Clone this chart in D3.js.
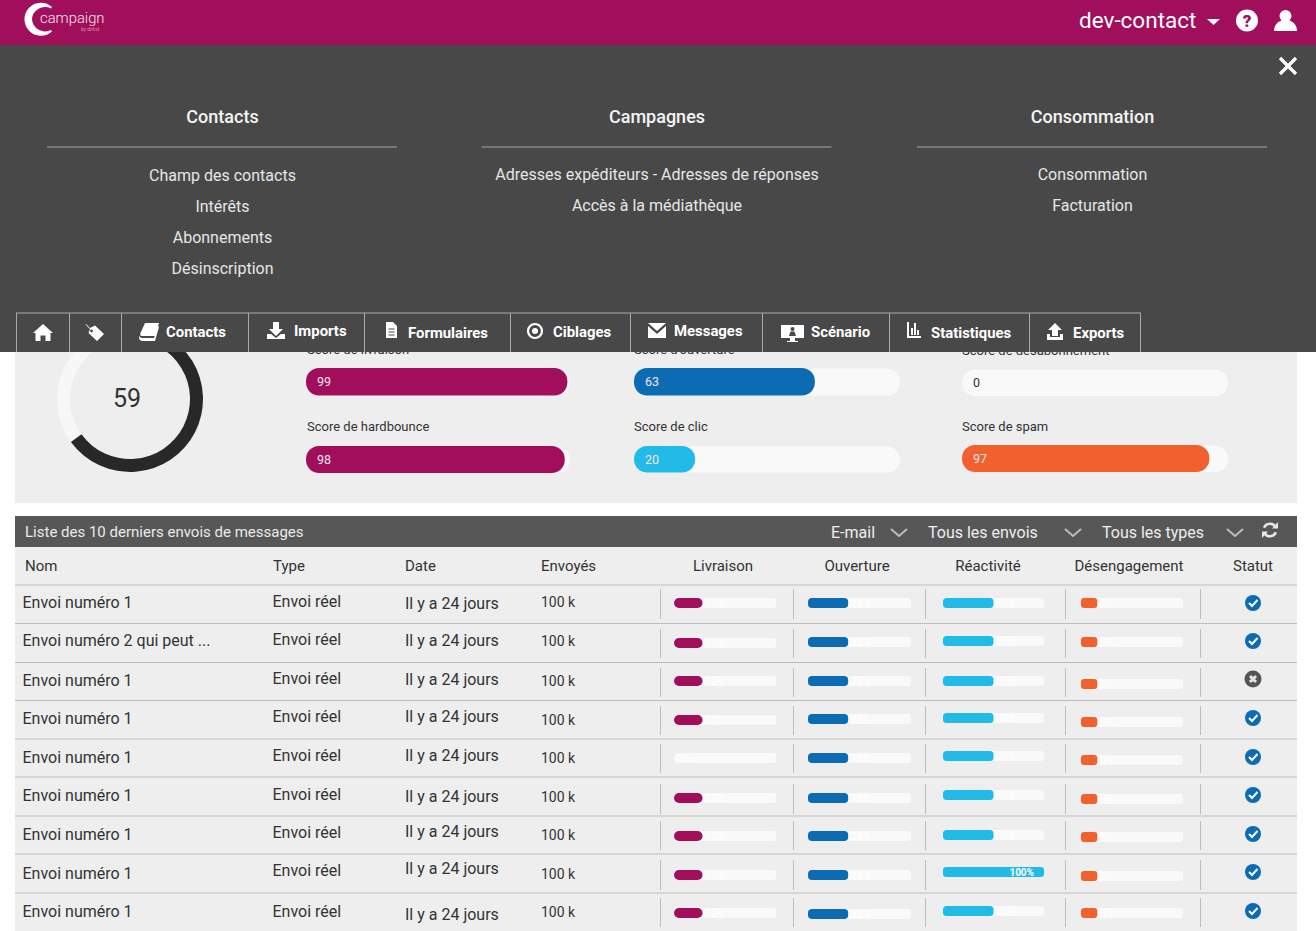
<!DOCTYPE html>
<html>
<head>
<meta charset="utf-8">
<script src="https://cdn.jsdelivr.net/npm/d3@7"></script>
<style>
    html, body { margin: 0; padding: 0; background: #fff; overflow: hidden; }
    svg { display: block; }
    text { font-family: Roboto, sans-serif; }
</style>
</head>
<body>
<svg id="page" width="1316" height="931"></svg>
<script>
// data
const menuTitles = ['Contacts', 'Campagnes', 'Consommation']
const menuItems = [
    ['Champ des contacts', 'Intérêts', 'Abonnements', 'Désinscription'],
    ['Adresses expéditeurs - Adresses de réponses', 'Accès à la médiathèque'],
    ['Consommation', 'Facturation']
]
const navLabels = ['', '', 'Contacts', 'Imports', 'Formulaires', 'Ciblages', 'Messages', 'Scénario', 'Statistiques', 'Exports']

const donutLabel = '59'
const donutFill = 65

const scoreNames = ['Score de livraison', 'Score de hardbounce', "Score d'ouverture", 'Score de clic', 'Score de désabonnement', 'Score de spam']
const scoreLabels = ['99', '98', '63', '20', '0', '97']
const scoreFill = [99, 98, 68, 23, 0, 93]

const tableTitle = 'Liste des 10 derniers envois de messages'
const filters = ['E-mail', 'Tous les envois', 'Tous les types']
const columns = ['Nom', 'Type', 'Date', 'Envoyés', 'Livraison', 'Ouverture', 'Réactivité', 'Désengagement', 'Statut']

const names = ['Envoi numéro 1', 'Envoi numéro 2 qui peut ...', 'Envoi numéro 1', 'Envoi numéro 1', 'Envoi numéro 1', 'Envoi numéro 1', 'Envoi numéro 1', 'Envoi numéro 1', 'Envoi numéro 1']
const types = ['Envoi réel', 'Envoi réel', 'Envoi réel', 'Envoi réel', 'Envoi réel', 'Envoi réel', 'Envoi réel', 'Envoi réel', 'Envoi réel']
const dates = ['Il y a 24 jours', 'Il y a 24 jours', 'Il y a 24 jours', 'Il y a 24 jours', 'Il y a 24 jours', 'Il y a 24 jours', 'Il y a 24 jours', 'Il y a 24 jours', 'Il y a 24 jours']
const sent = ['100 k', '100 k', '100 k', '100 k', '100 k', '100 k', '100 k', '100 k', '100 k']
const statuses = ['ok', 'ok', 'ko', 'ok', 'ok', 'ok', 'ok', 'ok', 'ok']

// shown percentage / drawn length of each small bar
const livraisonText = ['12%', '12%', '12%', '12%', '0%', '12%', '12%', '12%', '12%']
const livraisonFill = [28, 28, 28, 28, 0, 28, 28, 28, 28]
const ouvertureText = ['25%', '25%', '25%', '25%', '25%', '25%', '25%', '25%', '25%']
const ouvertureFill = [39, 39, 39, 39, 39, 39, 39, 39, 39]
const reactiviteText = ['50%', '50%', '50%', '50%', '50%', '50%', '50%', '100%', '50%']
const reactiviteFill = [50, 50, 50, 50, 50, 50, 50, 100, 50]
const desengagementText = ['5%', '5%', '5%', '5%', '5%', '5%', '5%', '5%', '5%']
const desengagementFill = [16, 16, 16, 16, 16, 16, 16, 16, 16]

/**
 * @Layout
 */
const COLORS = {
    brand: '#A10E5B', panel: '#484848', band: '#575757', bg: '#EEEEEE', track: '#F9F9F9',
    blue: '#0C6CB3', cyan: '#22BBE8', orange: '#F2602E', dark: '#282828', text: '#333333', line: '#BDBDBD'
}
const menuCenters = [222.5, 657, 1092.5]
const menuItemY = [[175, 206, 237, 268], [174, 205], [174, 205]]
const navEdges = [16, 69, 121, 248, 364, 510, 630, 762, 889, 1029, 1140]
const navTextX = [0, 0, 166, 294, 408, 553, 674, 811, 931, 1073]
const navTextY = [0, 0, 332, 331, 333, 332, 331, 332, 333, 333]
const rowLines = [585, 623.5, 662.5, 700.5, 739, 777, 816, 854, 893]
const sepTop = [589, 629, 668, 706, 744, 784, 821, 860, 898]
const sepBottom = [619, 658, 697, 735, 773, 814, 850, 890, 927]
const columnX = [25, 273, 405, 541]
const columnCenters = [723, 857, 988, 1129, 1253]
const separators = [660.5, 793.5, 925.5, 1065.5, 1200.5]
const nameY = [602, 640, 680, 718, 757, 795, 834, 873, 911]
const typeY = [601, 639, 678, 716, 755, 794, 832, 870, 911]
const dateY = [603, 640, 679, 716, 755, 796, 831, 868, 914]
const sentY = [602, 641, 681, 720, 758, 797, 835, 874, 912]
const statusY = [603, 641, 679, 718, 757, 795, 834, 872, 911]

const Page = d3.select('#page')

// small helper for text, the page has a lot of it
function label(parent, x, y, str, size, color, anchor, weight) {
    return parent.append('text')
        .attr('x', x).attr('y', y).attr('dy', '.35em')
        .attr('font-size', size)
        .attr('fill', color)
        .attr('text-anchor', anchor || 'start')
        .attr('font-weight', weight || 400)
        .text(str)
}

/**
 * @Content
 */
Page.append('rect').attr('x', 15).attr('y', 340).attr('width', 1282).attr('height', 163).attr('fill', COLORS.bg)

// donut
const Donut = Page.append('g').attr('transform', 'translate(130,399)')
const donutAngle = d3.scaleLinear().domain([0, 100]).range([0, 2 * Math.PI])
const donutArc = d3.arc().innerRadius(60).outerRadius(73)
Donut.append('path').attr('d', donutArc({ startAngle: 0, endAngle: 2 * Math.PI })).attr('fill', '#F7F7F7')
Donut.append('path').attr('d', donutArc({ startAngle: 0, endAngle: donutAngle(donutFill) })).attr('fill', COLORS.dark)
label(Donut, -3, -1, donutLabel, 25, COLORS.text, 'middle')

// score bars
const scoreSlots = [
    { x: 306, w: 264, y: 368, h: 27.5, color: COLORS.brand },
    { x: 306, w: 264, y: 446, h: 27, color: COLORS.brand },
    { x: 634, w: 266, y: 368, h: 27.5, color: COLORS.blue },
    { x: 634, w: 266, y: 446, h: 26.5, color: COLORS.cyan },
    { x: 962, w: 266, y: 369, h: 27, color: COLORS.orange },
    { x: 962, w: 266, y: 445, h: 27, color: COLORS.orange }
]
const Scores = Page.append('g')
scoreNames.forEach((name, i) => {
    const s = scoreSlots[i]
    const scoreX = d3.scaleLinear().domain([0, 100]).range([0, s.w])
    label(Scores, s.x + (i === 0 || i === 1 ? 1 : 0), i % 2 ? 426.5 : s.y - 19, name, 13, COLORS.text)
    Scores.append('rect').attr('x', s.x).attr('y', s.y + 0.5).attr('width', s.w).attr('height', s.h - 0.5)
        .attr('rx', 13).attr('fill', COLORS.track)
    if (scoreFill[i] > 0) {
        Scores.append('rect').attr('x', s.x).attr('y', s.y).attr('width', scoreX(scoreFill[i])).attr('height', s.h)
            .attr('rx', 13).attr('fill', s.color)
    }
    label(Scores, s.x + 11, s.y + 13.5, scoreLabels[i], 12.5, scoreFill[i] > 0 ? '#F4E6EE' : COLORS.text)
})

/**
 * @Table
 */
Page.append('rect').attr('x', 15).attr('y', 516).attr('width', 1282).attr('height', 31).attr('fill', COLORS.band)
Page.append('rect').attr('x', 15).attr('y', 547).attr('width', 1282).attr('height', 384).attr('fill', COLORS.bg)
const TableHead = Page.append('g')
label(TableHead, 25, 532, tableTitle, 15, '#EAEAEA')
const filterX = [831, 928, 1102]
const chevronX = [899, 1073, 1235]
filters.forEach((f, i) => {
    label(TableHead, filterX[i], 532, f, 16, '#EEEEEE')
    TableHead.append('path')
        .attr('d', `M${chevronX[i] - 8},529 L${chevronX[i]},536 L${chevronX[i] + 8},529`)
        .attr('fill', 'none').attr('stroke', '#BDBDBD').attr('stroke-width', 2)
})
// refresh arrows
const Refresh = TableHead.append('g').attr('transform', 'translate(1270,530)')
Refresh.append('path').attr('d', d3.arc()({ innerRadius: 5, outerRadius: 7.6, startAngle: -1.2, endAngle: 1.1 })).attr('fill', '#E6E6E6')
Refresh.append('path').attr('d', d3.arc()({ innerRadius: 5, outerRadius: 7.6, startAngle: 1.95, endAngle: 4.2 })).attr('fill', '#E6E6E6')
Refresh.append('path').attr('d', 'M8,-8 L8,-1.5 L2,-1.5 Z').attr('fill', '#E6E6E6')
Refresh.append('path').attr('d', 'M-8,8 L-8,1.5 L-2,1.5 Z').attr('fill', '#E6E6E6')

columns.forEach((c, i) => {
    if (i < 4) label(TableHead, columnX[i], 566, c, 15, COLORS.text)
    else label(TableHead, columnCenters[i - 4], 566, c, 15, COLORS.text, 'middle')
})

const barColumns = [
    { x: 674, w: 102, r: 5, color: COLORS.brand, fill: livraisonFill, text: livraisonText, y: [603, 643, 681, 720, 758, 798, 836, 875, 913] },
    { x: 808, w: 103, r: 4, color: COLORS.blue, fill: ouvertureFill, text: ouvertureText, y: [603, 642, 681, 719, 758, 798, 836, 875, 914] },
    { x: 943, w: 101, r: 3.5, color: COLORS.cyan, fill: reactiviteFill, text: reactiviteText, y: [603, 641, 681, 718, 756, 795, 835, 872, 911] },
    { x: 1081, w: 102, r: 3, color: COLORS.orange, fill: desengagementFill, text: desengagementText, y: [603, 642, 684, 722, 760, 799, 837, 876, 913] }
]

const Rows = Page.append('g')
Rows.selectAll('line.row').data(rowLines).enter().append('line')
    .attr('x1', 15).attr('x2', 1297)
    .attr('y1', d => d).attr('y2', d => d)
    .attr('stroke', COLORS.line).attr('stroke-width', 1.2)

names.forEach((name, i) => {
    label(Rows, 22.5, nameY[i], name, 16, COLORS.text)
    label(Rows, 272.5, typeY[i], types[i], 16, COLORS.text)
    label(Rows, 405, dateY[i], dates[i], 16, COLORS.text)
    label(Rows, 541, sentY[i], sent[i], 14, COLORS.text)

    separators.forEach(x => {
        Rows.append('line').attr('x1', x).attr('x2', x).attr('y1', sepTop[i]).attr('y2', sepBottom[i])
            .attr('stroke', COLORS.line).attr('stroke-width', 1)
    })

    barColumns.forEach(col => {
        const barX = d3.scaleLinear().domain([0, 100]).range([col.x, col.x + col.w])
        const y = col.y[i] - 5
        Rows.append('rect').attr('x', col.x).attr('y', y).attr('width', col.w).attr('height', 10)
            .attr('rx', 3).attr('fill', COLORS.track)
        if (col.fill[i] > 0) {
            Rows.append('rect').attr('x', col.x).attr('y', y).attr('width', barX(col.fill[i]) - col.x).attr('height', 10)
                .attr('rx', col.fill[i] === 100 ? 3 : col.r).attr('fill', col.color)
        }
        if (col.fill[i] === 100) {
            label(Rows, barX(100) - 10, col.y[i], col.text[i], 10, '#FFFFFF', 'end', 700)
        } else {
            label(Rows, barX(col.fill[i]) + 3, col.y[i], col.text[i], 10.5, '#FFFFFF')
        }
    })

    const Status = Rows.append('g').attr('transform', `translate(${columnCenters[4]},${statusY[i]})`)
    if (statuses[i] === 'ok') {
        Status.append('circle').attr('r', 8).attr('fill', COLORS.blue)
        Status.append('path').attr('d', 'M-4,0 L-1,3 L4.5,-3').attr('fill', 'none').attr('stroke', '#fff').attr('stroke-width', 2)
    } else {
        Status.append('circle').attr('r', 8.5).attr('fill', '#555555')
        Status.append('path').attr('d', 'M-3,-3 L3,3 M3,-3 L-3,3').attr('fill', 'none').attr('stroke', '#E6E6E6').attr('stroke-width', 3)
    }
})

/**
 * @Header
 */
Page.append('rect').attr('width', 1316).attr('height', 45).attr('fill', COLORS.brand)
const Panel = Page.append('g')
Panel.append('rect').attr('y', 45).attr('width', 1316).attr('height', 307).attr('fill', COLORS.panel)

// logo: crescent with a thin inner swoosh
const Logo = Page.append('g')
Logo.append('path')
    .attr('d', 'M52,7 A16.5,16.5 0 1 0 52,31.5 L51,30 A13,12.5 0 0 1 32,19 A13,12.5 0 0 1 51,8.5 Z')
    .attr('fill', '#FFFFFF')
Logo.append('text').attr('x', 40).attr('y', 23).attr('font-size', 14.8).attr('font-weight', 300).attr('fill', '#F5E6EE').text('campaign')
Logo.append('text').attr('x', 81).attr('y', 31).attr('font-size', 5).attr('font-weight', 300).attr('fill', '#E8C8DA').text('by dolist')

label(Page, 1079, 20, 'dev-contact', 22.5, '#FFFFFF')
Page.append('path').attr('d', 'M1207,19 L1220,19 L1213.5,25 Z').attr('fill', '#FFFFFF')
Page.append('circle').attr('cx', 1247).attr('cy', 20.5).attr('r', 11).attr('fill', '#FFFFFF')
Page.append('text').attr('x', 1247).attr('y', 20.5).attr('dy', '.36em').attr('text-anchor', 'middle')
    .attr('font-size', 17).attr('font-weight', 900).attr('fill', COLORS.brand).text('?')
// user
Page.append('circle').attr('cx', 1285.5).attr('cy', 16).attr('r', 6).attr('fill', '#FFFFFF')
Page.append('path').attr('d', 'M1274,31 C1274,24 1279,21 1283,20 L1288,20 C1292,21 1297,24 1297,31 Z').attr('fill', '#FFFFFF')
// close
Page.append('path').attr('d', 'M1280,58 L1296,74 M1296,58 L1280,74').attr('stroke', '#FFFFFF').attr('stroke-width', 3.2).attr('fill', 'none')

/**
 * @Menu
 */
menuTitles.forEach((title, i) => {
    const cx = menuCenters[i]
    label(Panel, cx, 117, title, 18, '#F5F5F5', 'middle', 500)
    Panel.append('line').attr('x1', 222 + (cx - 222.5) - 175).attr('x2', 222 + (cx - 222.5) + 175).attr('y1', 147).attr('y2', 147)
        .attr('stroke', '#777777').attr('stroke-width', 2)
    menuItems[i].forEach((item, j) => {
        label(Panel, cx, menuItemY[i][j], item, 16, '#E6E6E6', 'middle')
    })
})

/**
 * @Nav
 */
const Nav = Page.append('g')
Nav.append('line').attr('x1', navEdges[0]).attr('x2', navEdges[navEdges.length - 1] + 1).attr('y1', 313).attr('y2', 313)
    .attr('stroke', '#7A7A7A').attr('stroke-width', 2)
Nav.selectAll('line.edge').data(navEdges).enter().append('line')
    .attr('x1', d => d + 0.5).attr('x2', d => d + 0.5).attr('y1', 313).attr('y2', 352)
    .attr('stroke', '#A8A8A8').attr('stroke-width', 1)
navLabels.forEach((t, i) => {
    if (t) label(Nav, navTextX[i], navTextY[i], t, 14.9, '#FFFFFF', 'start', 700)
})

// toolbar glyphs
const navIcons = [
    'M33,333 L43,324 L53,333 L50.5,333 L50.5,341 L45.5,341 L45.5,335.5 L40.5,335.5 L40.5,341 L35.5,341 L35.5,333 Z',
    'M86,324 L90,328 L95,325.5 L104,334 L97,341 L88.5,333 L90,329 L85.5,324.5 Z',
    'M145,323 L159,323 L155,336 L142,336 Q139.5,336 140.5,333 Z M141,338 L154,338 L158,326 L159,327 L155,341 L142,341 Q138,340 139.5,336 Z',
    'M273,322 L279,322 L279,329 L283,329 L276,336 L269,329 L273,329 Z M267,334 L271,334 L276,338 L281,334 L285,334 L285,339 L267,339 Z',
    'M386,322 L393,322 L397,326 L397,338 L386,338 Z',
    'M648,323 L666,323 L657,331 Z M648,326 L657,334 L666,326 L666,338 L648,338 Z',
    'M781,325 L804,325 L804,338 L795,338 L795,341 L798,341 L798,342 L787,342 L787,341 L790,341 L790,338 L781,338 Z',
    'M907,322 L909,322 L909,336 L921,336 L921,338 L907,338 Z M911,328 L913,328 L913,335 L911,335 Z M914,323 L916,323 L916,335 L914,335 Z M917,330 L919,330 L919,335 L917,335 Z',
    'M1055,323 L1062,330 L1058,330 L1058,336 L1052,336 L1052,330 L1048,330 Z M1047,334 L1050,334 L1050,337 L1060,337 L1060,334 L1063,334 L1063,340 L1047,340 Z'
]
Nav.selectAll('path.icon').data(navIcons).enter().append('path')
    .attr('d', d => d).attr('fill', '#FFFFFF')
// tag hole, form lines, target, presenter are details on top of the glyphs
Nav.append('circle').attr('cx', 91.5).attr('cy', 331).attr('r', 1.4).attr('fill', COLORS.panel)
Nav.append('path').attr('d', 'M388.5,329 H394.5 M388.5,332 H394.5 M388.5,335 H394.5').attr('stroke', COLORS.panel).attr('stroke-width', 1)
Nav.append('circle').attr('cx', 535).attr('cy', 331).attr('r', 7).attr('fill', 'none').attr('stroke', '#FFFFFF').attr('stroke-width', 2.2)
Nav.append('circle').attr('cx', 535).attr('cy', 331).attr('r', 3).attr('fill', '#FFFFFF')
Nav.append('circle').attr('cx', 792.5).attr('cy', 329).attr('r', 2).attr('fill', COLORS.panel)
Nav.append('path').attr('d', 'M789,336 L790.5,331.5 L794.5,331.5 L796,336 Z').attr('fill', COLORS.panel)
</script>
</body>
</html>
